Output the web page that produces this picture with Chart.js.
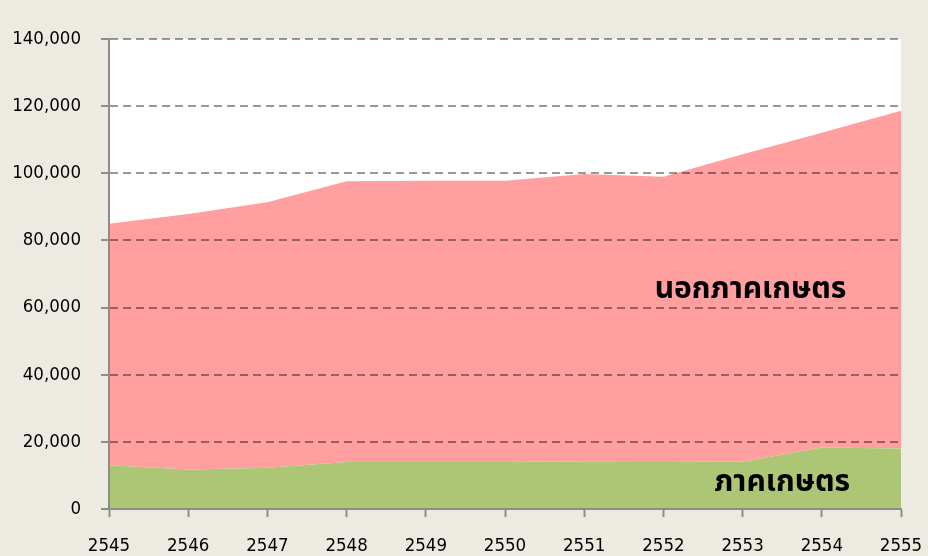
<!DOCTYPE html>
<html>
<head>
<meta charset="utf-8">
<script src="https://cdn.jsdelivr.net/npm/chart.js@4.4.1/dist/chart.umd.min.js"></script>
<style>
  html, body { margin: 0; padding: 0; background: #EDEBE1; }
  #wrap { width: 928px; height: 556px; position: relative; }
</style>
</head>
<body>
<div id="wrap"><canvas id="c" width="928" height="556"></canvas></div>
<script>
const years = ['2545','2546','2547','2548','2549','2550','2551','2552','2553','2554','2555'];
const agri = [13000, 11800, 12300, 14000, 14000, 14000, 14200, 14300, 14100, 18300, 18000];
const nonAgri = [72000, 76100, 79100, 83600, 83800, 83800, 85600, 84700, 91600, 93800, 100600];
const yTicks = [0, 20000, 40000, 60000, 80000, 100000, 120000, 140000];
const seriesNames = ['ภาคเกษตร', 'นอกภาคเกษตร'];
const labelSpots = [
  { text: 'ภาคเกษตร', xi: 8.5, y: 7300 },
  { text: 'นอกภาคเกษตร', xi: 8.1, y: 64800 }
];

const tickFont = { family: "'DejaVu Sans Condensed', 'DejaVu Sans', sans-serif", size: 18.5 };

const bgPlugin = {
  id: 'bg',
  beforeDraw(chart) {
    const { ctx, chartArea: a } = chart;
    ctx.save();
    ctx.fillStyle = '#EDEBE1';
    ctx.fillRect(0, 0, chart.width, chart.height);
    ctx.fillStyle = '#FFFFFF';
    ctx.fillRect(a.left, a.top, a.right - a.left, a.bottom - a.top);
    ctx.restore();
  }
};

const labelPlugin = {
  id: 'areaLabels',
  afterDraw(chart) {
    const { ctx, scales } = chart;
    ctx.save();
    ctx.font = "bold 30px 'Noto Sans Thai', 'Noto Sans', 'DejaVu Sans', sans-serif";
    ctx.fillStyle = '#000';
    ctx.textAlign = 'center';
    ctx.textBaseline = 'middle';
    labelSpots.forEach(s => {
      ctx.fillText(s.text, scales.x.getPixelForValue(s.xi), scales.y.getPixelForValue(s.y));
    });
    ctx.restore();
  }
};

new Chart(document.getElementById('c'), {
  type: 'line',
  data: {
    labels: years,
    datasets: [
      { label: seriesNames[0], data: agri, fill: 'origin', backgroundColor: '#ADC676', borderWidth: 0, pointRadius: 0, tension: 0 },
      { label: seriesNames[1], data: nonAgri, fill: '-1', backgroundColor: '#FF9F9F', borderWidth: 0, pointRadius: 0, tension: 0 }
    ]
  },
  options: {
    responsive: false,
    animation: false,
    layout: { padding: { left: 12, right: 27, top: 39, bottom: 0 } },
    plugins: { legend: { display: false }, tooltip: { enabled: false } },
    scales: {
      x: {
        offset: false,
        grid: { z: 1, drawOnChartArea: false, drawTicks: true, tickLength: 8, tickColor: '#8C8C8C', tickWidth: 2 },
        border: { z: 1, display: true, color: '#8C8C8C', width: 2 },
        ticks: { font: tickFont, color: '#000', padding: 18, maxRotation: 0, autoSkip: false },
        afterFit(s) { s.height = 47; s.paddingLeft = 0; s.paddingRight = 0; }
      },
      y: {
        stacked: true,
        min: 0, max: 140000,
        afterBuildTicks(s) { s.ticks = yTicks.map(v => ({ value: v })); },
        grid: {
          z: 1,
          color: ctx => (ctx.tick && ctx.tick.value === 0) ? 'rgba(0,0,0,0)' : 'rgba(0,0,0,0.4)',
          lineWidth: 2, tickLength: 8, tickColor: '#8C8C8C', tickWidth: 2, tickBorderDash: []
        },
        border: { z: 1, display: true, color: '#8C8C8C', width: 2, dash: [8, 5] },
        ticks: { font: tickFont, color: '#000', padding: 20, callback: v => v.toLocaleString('en-US') },
        afterFit(s) { s.width = 97; s.paddingTop = 0; s.paddingBottom = 0; }
      }
    }
  },
  plugins: [bgPlugin, labelPlugin]
});
</script>
</body>
</html>
